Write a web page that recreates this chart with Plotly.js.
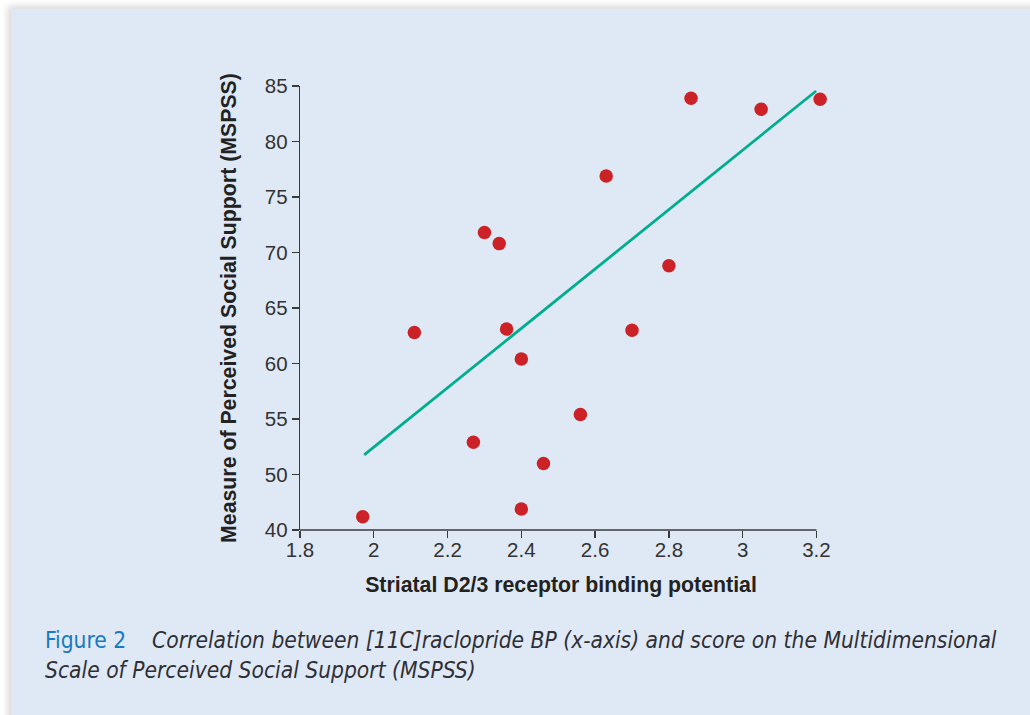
<!DOCTYPE html>
<html>
<head>
<meta charset="utf-8">
<script src="https://cdn.plot.ly/plotly-3.0.1.min.js"></script>
<style>
  html, body { margin: 0; padding: 0; background: #ffffff; width: 1030px; height: 715px; overflow: hidden; }
  #panel { position: absolute; left: 11px; top: 9px; width: 1030px; height: 720px; background: #dfe9f5;
           box-shadow: -3px -3px 7px rgba(0,0,0,0.16); }
  #chart { position: absolute; left: 0; top: 0; width: 1030px; height: 715px; }
</style>
</head>
<body>
<div id="panel"></div>
<div id="chart"></div>
<script>
// Data
const bindingPotential = [1.97, 2.11, 2.27, 2.30, 2.34, 2.36, 2.40, 2.40, 2.46, 2.56, 2.63, 2.70, 2.80, 2.86, 3.05, 3.21];
const mspssScore       = [46.2, 62.8, 52.9, 71.8, 70.8, 63.1, 60.4, 46.9, 51.0, 55.4, 76.9, 63.0, 68.8, 83.9, 82.9, 83.8];
const fitX = [1.974, 3.199];
const fitY = [51.76, 84.55];
const yTickVals = [45, 50, 55, 60, 65, 70, 75, 80, 85];
const yTickText = ["40", "50", "55", "60", "65", "70", "75", "80", "85"];
const xTickVals = [1.8, 2.0, 2.2, 2.4, 2.6, 2.8, 3.0, 3.2];
const xTickText = ["1.8", "2", "2.2", "2.4", "2.6", "2.8", "3", "3.2"];
const xTitle = "Striatal D2/3 receptor binding potential";
const yTitle = "Measure of Perceived Social Support (MSPSS)";
const captionLabel = "Figure 2";
const captionLine1 = "Correlation between [11C]raclopride BP (x-axis) and score on the Multidimensional";
const captionLine2 = "Scale of Perceived Social Support (MSPSS)";

// axis extents (x axis range slightly wider than the drawn axis line so the last point shows)
const xMin = 1.8, xAxisEnd = 3.2, xMax = 3.215;
const L = 299.8, R3_2 = 816, T = 85.7, B = 530;
const pxPerUnit = (R3_2 - L) / (xAxisEnd - xMin);
const R = L + pxPerUnit * (xMax - xMin);
const W = R - L, H = B - T;
const px = v => (v - L) / W;
const py = v => (B - v) / H;

const traces = [
  { x: fitX, y: fitY, type: 'scatter', mode: 'lines',
    line: { color: '#00ad8e', width: 2.8 }, hoverinfo: 'skip', cliponaxis: false },
  { x: bindingPotential, y: mspssScore, type: 'scatter', mode: 'markers',
    marker: { color: '#cd2128', size: 13.5, line: { width: 0 } }, cliponaxis: false }
];

const captionFont = { family: '"DejaVu Sans Condensed", "Noto Sans", sans-serif', size: 22.6, color: '#2f2f35' };
const tickFont = { family: '"Liberation Sans", Arial, sans-serif', size: 20.5, color: '#333333' };
const titleFont = { family: '"Liberation Sans", Arial, sans-serif', size: 21.3, color: '#222222' };

const layout = {
  width: 1030, height: 715,
  paper_bgcolor: 'rgba(0,0,0,0)', plot_bgcolor: 'rgba(0,0,0,0)',
  showlegend: false,
  margin: { l: L, r: 1030 - R, t: T, b: 715 - B, pad: 0 },
  xaxis: {
    range: [xMin, xMax], tickmode: 'array', tickvals: xTickVals, ticktext: xTickText,
    showgrid: false, zeroline: false, showline: false,
    ticks: 'outside', ticklen: 7, tickwidth: 1.3, tickcolor: '#3a3a3a',
    tickfont: tickFont, ticklabelstandoff: -6,
    title: { text: '<b>' + xTitle + '</b>', standoff: 17, font: titleFont }
  },
  yaxis: {
    range: [45, 85], tickmode: 'array', tickvals: yTickVals, ticktext: yTickText,
    showgrid: false, zeroline: false, showline: true, linecolor: '#3a3a3a', linewidth: 1.3,
    ticks: 'outside', ticklen: 7, tickwidth: 1.3, tickcolor: '#3a3a3a',
    tickfont: tickFont,
    title: { text: '<b>' + yTitle + '</b>', standoff: 22, font: titleFont }
  },
  shapes: [
    { type: 'line', xref: 'x', yref: 'paper', x0: xMin, x1: xAxisEnd, y0: 0, y1: 0,
      line: { color: '#3a3a3a', width: 1.3 } }
  ],
  annotations: [
    { xref: 'paper', yref: 'paper', x: px(43), y: py(640), xanchor: 'left', yanchor: 'middle',
      showarrow: false, align: 'left',
      text: '<span style="color:#1a79c1">' + captionLabel + '</span>    <i>' + captionLine1 + '</i>',
      font: captionFont },
    { xref: 'paper', yref: 'paper', x: px(43), y: py(670), xanchor: 'left', yanchor: 'middle',
      showarrow: false, align: 'left',
      text: '<i>' + captionLine2 + '</i>', font: captionFont }
  ]
};

Plotly.newPlot('chart', traces, layout, { displayModeBar: false, staticPlot: true });
</script>
</body>
</html>
